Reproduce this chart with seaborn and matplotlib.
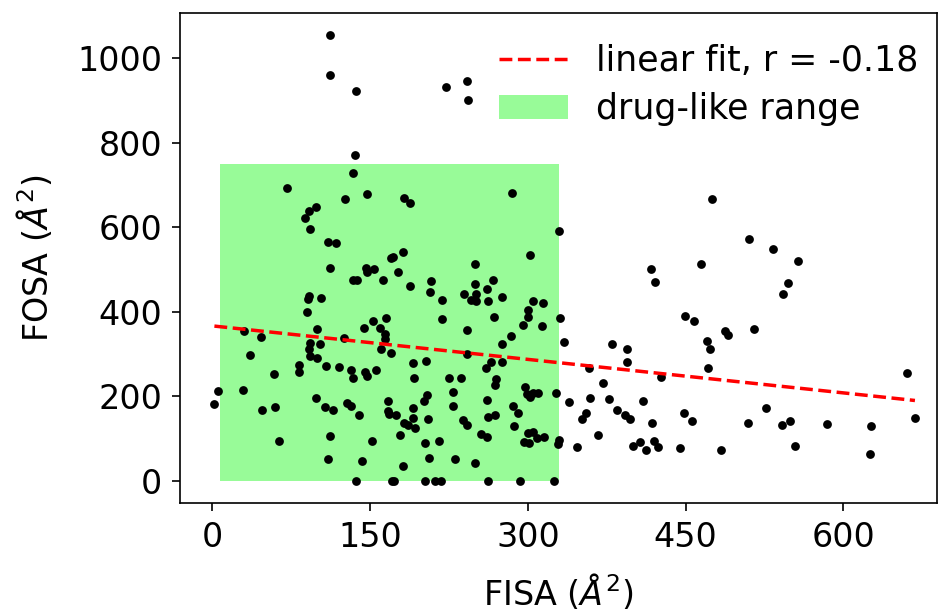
import matplotlib
matplotlib.use("Agg")
import numpy as np
import pandas as pd
import seaborn as sns
import matplotlib.pyplot as plt
from matplotlib.patches import Patch
from matplotlib.lines import Line2D

# FISA (x) and FOSA (y) values, in Å^2
fisa = [112, 112, 137, 136, 134, 71, 126, 147, 99, 92, 88, 93, 110, 118,
        112, 146, 154, 147, 134, 138, 162, 92, 91, 103, 90, 153, 144, 159,
        30, 46, 100, 125, 93, 102, 92, 93, 100, 36, 82, 82, 108, 120, 132,
        134, 145, 147, 156, 59, 5, 29, 2, 99, 47, 60, 107, 115, 128, 132,
        139, 63, 112, 152, 110, 142, 137,
        222, 242, 243, 182, 188, 285, 330, 181, 170, 172, 302,
        250, 177, 188, 208, 207, 250, 267, 261, 239, 251, 246, 251, 262,
        275, 218, 305, 314, 300, 300, 295, 313, 331, 268, 218, 165, 164,
        164, 242, 284, 275, 334, 160, 170, 242, 191, 203, 265, 260, 275,
        192, 225, 236, 270, 269, 297, 299, 302, 310, 305, 327, 339, 229,
        229, 204, 201, 167, 167, 168, 175, 191, 191, 205, 261, 286, 291,
        262, 269, 238, 242, 182, 186, 193, 287, 300, 305, 309, 315,
        296, 301, 330, 329, 347, 255, 261, 178, 202, 216, 206, 231, 250,
        181, 171, 173, 202, 212, 217, 262, 293, 325,
        475, 510, 533, 557, 417, 421, 465, 547, 543, 449, 458, 487, 490,
        515, 380, 394, 394, 470, 473, 471, 358, 427, 371, 660, 359, 377,
        409, 385, 392, 397, 355, 351, 448, 456, 418, 526, 509, 542, 549,
        584, 626, 668, 367, 400, 407, 412, 420, 424, 445, 484, 554, 625]
fosa = [1055, 961, 923, 771, 729, 693, 667, 680, 647, 639, 623, 596, 566, 564,
        504, 503, 502, 495, 475, 476, 475, 438, 431, 434, 399, 379, 361, 362,
        355, 341, 359, 339, 327, 325, 312, 296, 292, 298, 274, 259, 273, 269, 262,
        244, 259, 249, 263, 252, 214, 215, 181, 196, 168, 174, 174, 169, 185, 177,
        156, 94, 106, 95, 51, 48, 0,
        932, 947, 901, 669, 658, 682, 592, 541, 528, 531, 535,
        514, 495, 461, 473, 447, 467, 476, 454, 442, 442, 428, 426, 425,
        435, 429, 425, 420, 404, 388, 370, 366, 386, 387, 384, 386, 348,
        335, 358, 342, 324, 328, 313, 302, 300, 279, 285, 281, 268, 282,
        244, 244, 244, 241, 226, 222, 206, 198, 207, 207, 209, 186, 211,
        178, 203, 190, 190, 166, 159, 157, 172, 150, 146, 191, 178, 161,
        152, 157, 144, 132, 137, 132, 125, 130, 114, 116, 101, 103,
        92, 91, 97, 88, 80, 111, 105, 110, 91, 95, 55, 53, 43,
        36, 0, 0, 0, 0, 0, 0, 0, 0,
        666, 573, 548, 521, 502, 471, 513, 468, 442, 390, 379, 355, 345,
        359, 323, 312, 282, 331, 312, 267, 268, 246, 231, 256, 196, 195,
        189, 168, 155, 146, 161, 147, 160, 141, 137, 173, 138, 132, 141,
        135, 131, 149, 110, 83, 93, 74, 94, 81, 79, 73, 83, 64]

# drug-like range (FISA 7-330, FOSA 0-750)
range_x = [7, 330]
range_y = [0, 750]

fit_label = "linear fit, r = -0.18"
range_label = "drug-like range"

df = pd.DataFrame({"FISA": fisa, "FOSA": fosa})

plt.rcParams["font.family"] = ["DejaVu Sans"]
plt.rcParams["axes.linewidth"] = 1.2
fig = plt.figure(figsize=(9.39, 6.12), dpi=100)
ax = fig.add_axes([0.1917, 0.1781, 0.8062, 0.8007])

ax.fill_between(range_x, range_y[0], range_y[1], color="palegreen",
                linewidth=0, zorder=1)
sns.scatterplot(data=df, x="FISA", y="FOSA", color="black", s=40,
                linewidth=0, ax=ax, zorder=2)
sns.regplot(data=df, x="FISA", y="FOSA", scatter=False, ci=None, ax=ax,
            line_kws=dict(color="red", linestyle="--", linewidth=2.5, zorder=3))

ax.set_xlim(-30.7, 689)
ax.set_ylim(-52, 1107)
ax.set_xticks([0, 150, 300, 450, 600])
ax.set_yticks([0, 200, 400, 600, 800, 1000])
ax.tick_params(labelsize=24, length=6, width=1.2, pad=7)
ax.set_xlabel(r"FISA ($\AA^2$)", fontsize=24, labelpad=13)
ax.set_ylabel(r"FOSA ($\AA^2$)", fontsize=24, labelpad=16)

handles = [Line2D([0], [0], color="red", linestyle="--", linewidth=2.5),
           Patch(facecolor="palegreen", edgecolor="none")]
ax.legend(handles, [fit_label, range_label], loc="upper right",
          bbox_to_anchor=(1.0165, 1.0), frameon=False, fontsize=25,
          labelspacing=0.4)

fig.savefig("out.png", dpi=100)
